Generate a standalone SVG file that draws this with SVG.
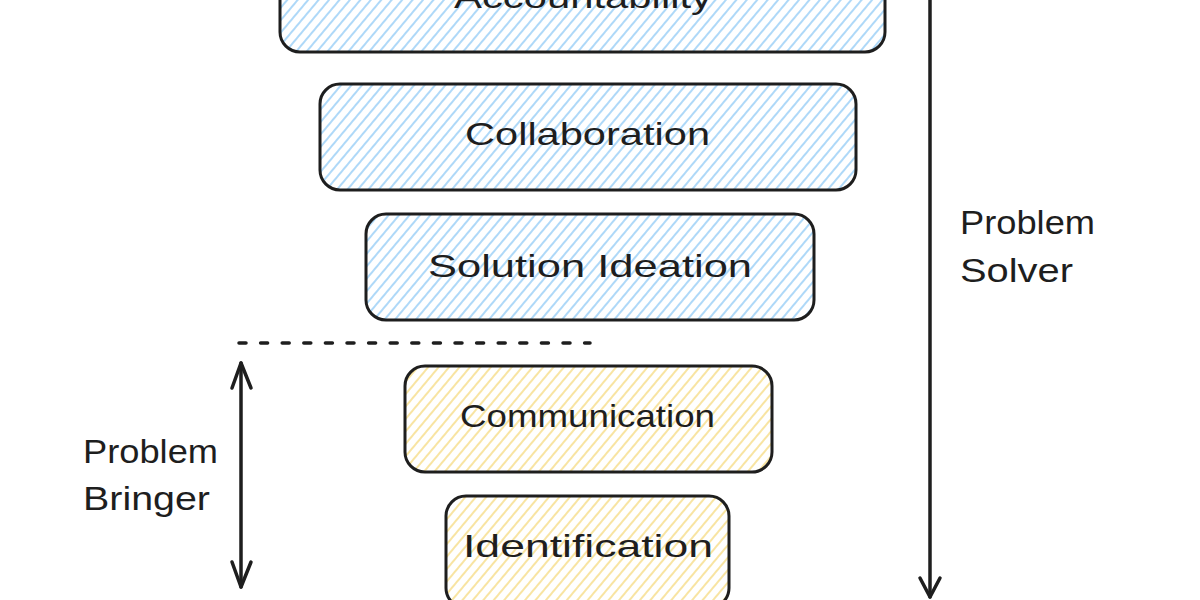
<svg xmlns="http://www.w3.org/2000/svg" width="1200" height="600" viewBox="0 0 1200 600">
  <defs>
    <pattern id="hatchBlue" patternUnits="userSpaceOnUse" width="8" height="8" patternTransform="rotate(40)">
      <line x1="4" y1="0" x2="4" y2="8" stroke="#8cc8f5" stroke-width="1.4"/>
    </pattern>
    <pattern id="hatchYellow" patternUnits="userSpaceOnUse" width="8" height="8" patternTransform="rotate(40)">
      <line x1="4" y1="0" x2="4" y2="8" stroke="#f5d97a" stroke-width="1.4"/>
    </pattern>
    <style>
      .box { stroke: #1e1e1e; stroke-width: 3; }
      .blue { fill: url(#hatchBlue); }
      .yellow { fill: url(#hatchYellow); }
      .label { font-family: "Liberation Sans", Arial, sans-serif; font-size: 32px; fill: #1e1e1e; }
      .side { font-family: "Liberation Sans", Arial, sans-serif; font-size: 34px; fill: #1e1e1e; }
      .conn { stroke: #1e1e1e; stroke-width: 3.5; fill: none; stroke-linecap: round; stroke-linejoin: round; }
      .dash { stroke: #1e1e1e; stroke-width: 3.5; fill: none; stroke-linecap: round; stroke-dasharray: 7 14.6; }
    </style>
  </defs>
  <rect width="1200" height="600" fill="#ffffff"/>

  <g id="node-accountability">
    <rect class="box blue" x="280" y="-55" width="605" height="107" rx="20"/>
    <text class="label" x="454" y="8" textLength="258" lengthAdjust="spacingAndGlyphs">Accountability</text>
  </g>
  <g id="node-collaboration">
    <rect class="box blue" x="320" y="84" width="536" height="106" rx="20"/>
    <text class="label" x="465" y="145" textLength="245" lengthAdjust="spacingAndGlyphs">Collaboration</text>
  </g>
  <g id="node-solution-ideation">
    <rect class="box blue" x="366" y="214" width="448" height="106" rx="20"/>
    <text class="label" x="428" y="277" textLength="324" lengthAdjust="spacingAndGlyphs">Solution Ideation</text>
  </g>
  <g id="node-communication">
    <rect class="box yellow" x="405" y="366" width="367" height="106" rx="20"/>
    <text class="label" x="460" y="427" textLength="255" lengthAdjust="spacingAndGlyphs">Communication</text>
  </g>
  <g id="node-identification">
    <rect class="box yellow" x="446" y="496" width="283" height="112" rx="20"/>
    <text class="label" x="463" y="557" textLength="250" lengthAdjust="spacingAndGlyphs">Identification</text>
  </g>

  <g id="label-problem-bringer">
    <text class="side" x="83" y="463" textLength="135" lengthAdjust="spacingAndGlyphs">Problem</text>
    <text class="side" x="83" y="510" textLength="127" lengthAdjust="spacingAndGlyphs">Bringer</text>
  </g>
  <g id="label-problem-solver">
    <text class="side" x="960" y="234" textLength="135" lengthAdjust="spacingAndGlyphs">Problem</text>
    <text class="side" x="960" y="282" textLength="113" lengthAdjust="spacingAndGlyphs">Solver</text>
  </g>

  <g id="connectors">
    <line class="dash" x1="239" y1="343" x2="590" y2="343"/>
    <path class="conn" d="M241 363 L241 587"/>
    <path class="conn" d="M232 388 L241 363 L251 388"/>
    <path class="conn" d="M232 562 L241 587 L251 562"/>
    <path class="conn" d="M930 -5 L930 597"/>
    <path class="conn" d="M920 578 L930 597 L940 578"/>
  </g>
</svg>
